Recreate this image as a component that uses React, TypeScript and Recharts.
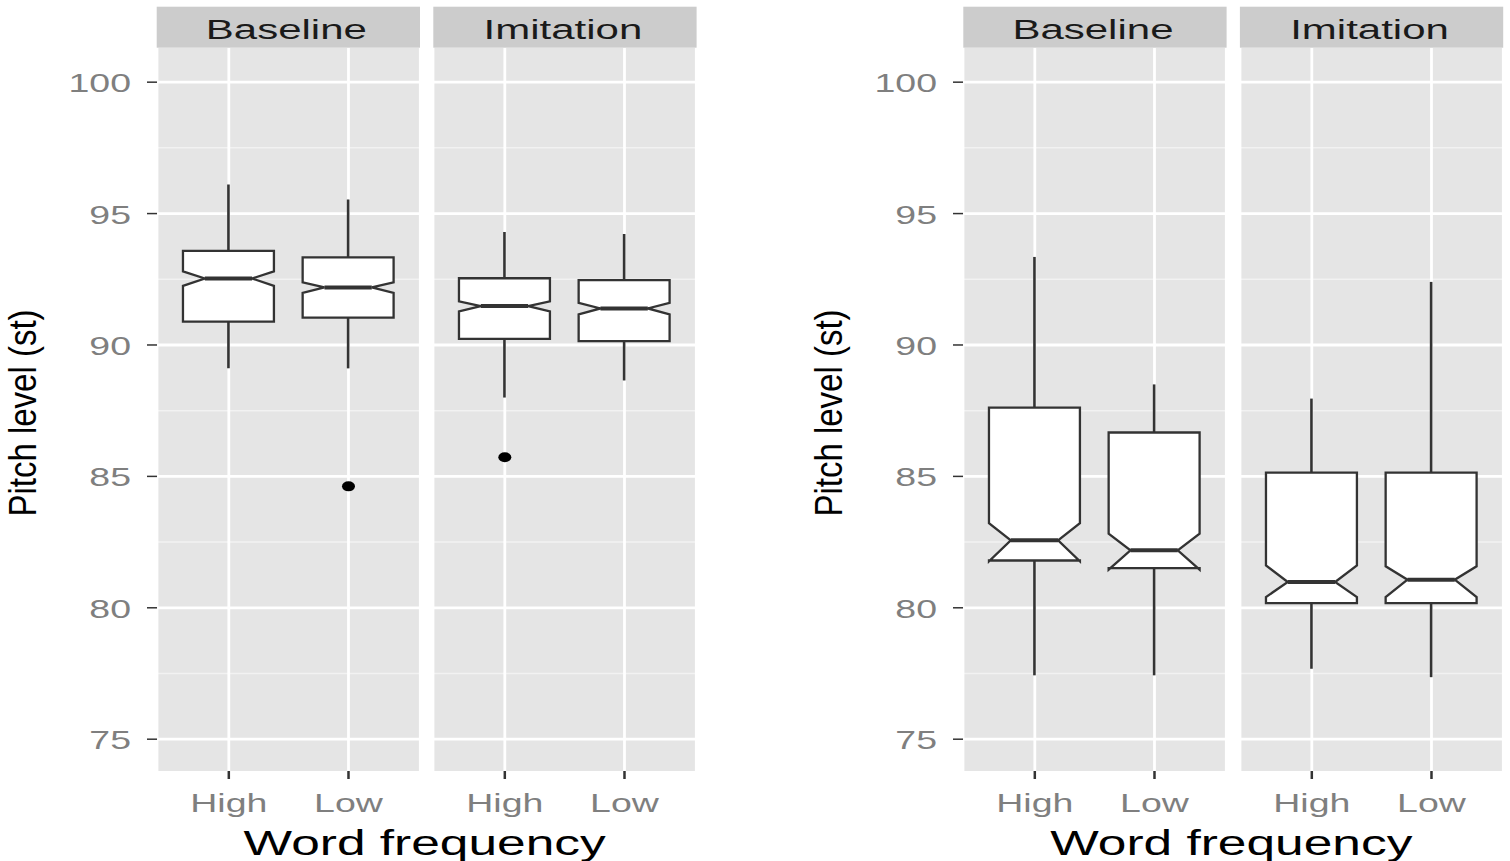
import React from 'react';
import { ComposedChart, Bar, Scatter, XAxis, YAxis, CartesianGrid } from 'recharts';

const categories = ['High', 'Low'];
const facetNames = ['Baseline', 'Imitation'];
const yTicks = [75, 80, 85, 90, 95, 100];
const yMinorTicks = [77.5, 82.5, 87.5, 92.5, 97.5];
const yDomain = [73.79, 101.3];

// box order in each list: Baseline-High, Baseline-Low, Imitation-High, Imitation-Low
const leftWhiskerLow = [89.11, 89.11, 88.0, 88.65];
const leftQ1 = [90.89, 91.04, 90.23, 90.15];
const leftNotchLow = [92.25, 91.98, 91.28, 91.16];
const leftMedian = [92.53, 92.19, 91.48, 91.39];
const leftNotchHigh = [92.8, 92.38, 91.66, 91.6];
const leftQ3 = [93.58, 93.33, 92.54, 92.47];
const leftWhiskerHigh = [96.11, 95.54, 94.3, 94.22];
const leftOutliers = [null, 84.62, 85.73, null];

const rightWhiskerLow = [77.43, 77.43, 77.68, 77.36];
const rightQ1 = [81.8, 81.51, 80.18, 80.18];
const rightNotchLow = [81.77, 81.45, 80.41, 80.41];
const rightMedian = [82.57, 82.19, 80.98, 81.07];
const rightNotchHigh = [83.22, 82.82, 81.61, 81.58];
const rightQ3 = [87.62, 86.67, 85.14, 85.14];
const rightWhiskerHigh = [93.35, 88.5, 87.96, 92.4];
const rightOutliers = [null, null, null, null];

const FONT = '"Liberation Sans", Arial, Helvetica, sans-serif';
const SX = 1.5;
const PANEL_W = 263.3;
const PANEL_GAP = 13.3;
const PANEL_TOP = 47.7;
const PANEL_H = 723;
const STRIP_TOP = 6.7;
const Y_AXIS_W = 157;
const X_AXIS_H = 50;
const CAT_PAD = PANEL_W * (0.6 / 2.2 - 0.25) * 2;
const BOX_W = (0.76 * PANEL_W) / 2.2;
const PLOT_LEFTS = [156.7, 963.3];

type Stats = {
  wl: number[]; q1: number[]; nl: number[]; med: number[];
  nh: number[]; q3: number[]; wh: number[]; out: (number | null)[];
};

const leftStats: Stats = {
  wl: leftWhiskerLow, q1: leftQ1, nl: leftNotchLow, med: leftMedian,
  nh: leftNotchHigh, q3: leftQ3, wh: leftWhiskerHigh, out: leftOutliers,
};
const rightStats: Stats = {
  wl: rightWhiskerLow, q1: rightQ1, nl: rightNotchLow, med: rightMedian,
  nh: rightNotchHigh, q3: rightQ3, wh: rightWhiskerHigh, out: rightOutliers,
};

function facetRows(s: Stats, facet: number) {
  return categories.map((category, c) => {
    const i = facet * categories.length + c;
    return {
      category,
      range: [s.wl[i], s.wh[i]],
      q1: s.q1[i],
      notchLow: s.nl[i],
      median: s.med[i],
      notchHigh: s.nh[i],
      q3: s.q3[i],
      outlier: s.out[i],
    };
  });
}

function NotchedBox(props: any) {
  const { x, y, width, height, payload } = props;
  if (!payload || !Number.isFinite(y) || !Number.isFinite(height)) return null;
  const [lo, hi] = payload.range;
  const top = Math.min(y, y + height);
  const k = Math.abs(height) / (hi - lo);
  const py = (v: number) => top + (hi - v) * k;
  const xmin = x;
  const xmax = x + width;
  const cx = x + width / 2;
  const inset = width * 0.24;
  const pts = [
    [xmin, py(payload.q3)],
    [xmin, py(payload.notchHigh)],
    [xmin + inset, py(payload.median)],
    [xmin, py(payload.notchLow)],
    [xmin, py(payload.q1)],
    [xmax, py(payload.q1)],
    [xmax, py(payload.notchLow)],
    [xmax - inset, py(payload.median)],
    [xmax, py(payload.notchHigh)],
    [xmax, py(payload.q3)],
  ]
    .map((p) => p.join(','))
    .join(' ');
  return (
    <g>
      <line x1={cx} x2={cx} y1={py(hi)} y2={py(payload.q3)} stroke="#333333" strokeWidth={2.6} />
      <line x1={cx} x2={cx} y1={py(payload.q1)} y2={py(lo)} stroke="#333333" strokeWidth={2.6} />
      <polygon points={pts} fill="#FFFFFF" stroke="#333333" strokeWidth={2.3} />
      <line
        x1={xmin + inset}
        x2={xmax - inset}
        y1={py(payload.median)}
        y2={py(payload.median)}
        stroke="#333333"
        strokeWidth={4}
      />
    </g>
  );
}

function OutlierDot(props: any) {
  const { cx, cy, payload } = props;
  if (!payload || payload.outlier == null || !Number.isFinite(cx) || !Number.isFinite(cy)) return null;
  return <ellipse cx={cx} cy={cy} rx={6.5} ry={5} fill="#000000" />;
}

function XTick(props: any) {
  const { x, y, payload } = props;
  return (
    <text
      transform={`translate(${x},${y + 33}) scale(${SX},1)`}
      textAnchor="middle"
      fill="#7F7F7F"
      fontSize={25}
      fontFamily={FONT}
    >
      {payload.value}
    </text>
  );
}

function YTick(props: any) {
  const { x, y, payload } = props;
  return (
    <text
      transform={`translate(${x},${y + 1}) scale(${SX},1)`}
      textAnchor="end"
      dy="0.36em"
      fill="#7F7F7F"
      fontSize={25}
      fontFamily={FONT}
    >
      {payload.value}
    </text>
  );
}

function Facet({ rows, showY, left }: { rows: any[]; showY: boolean; left: number }) {
  const width = showY ? Y_AXIS_W + PANEL_W : PANEL_W;
  return (
    <div style={{ position: 'absolute', left, top: PANEL_TOP }}>
      <ComposedChart
        width={width}
        height={PANEL_H + X_AXIS_H}
        data={rows}
        margin={{ top: 0, right: 0, bottom: 0, left: 0 }}
      >
        <CartesianGrid
          vertical={false}
          horizontalValues={yMinorTicks}
          stroke="#F2F2F2"
          strokeWidth={1.5}
          fill="#E5E5E5"
          fillOpacity={1}
        />
        <CartesianGrid horizontalValues={yTicks} stroke="#FFFFFF" strokeWidth={2.8} />
        <XAxis
          dataKey="category"
          type="category"
          interval={0}
          padding={{ left: CAT_PAD, right: CAT_PAD }}
          height={X_AXIS_H}
          axisLine={false}
          tickSize={8}
          tickMargin={0}
          tickLine={{ stroke: '#333333', strokeWidth: 2.5 }}
          tick={<XTick />}
        />
        <YAxis
          type="number"
          domain={yDomain}
          allowDataOverflow
          ticks={yTicks}
          hide={!showY}
          width={showY ? Y_AXIS_W : 0}
          axisLine={false}
          tickSize={10}
          tickMargin={16}
          tickLine={{ stroke: '#333333', strokeWidth: 1.5 }}
          tick={<YTick />}
        />
        <Bar dataKey="range" barSize={BOX_W} shape={<NotchedBox />} isAnimationActive={false} />
        <Scatter dataKey="outlier" shape={<OutlierDot />} isAnimationActive={false} />
      </ComposedChart>
    </div>
  );
}

function Decorations({ plotLeft }: { plotLeft: number }) {
  const midX = plotLeft + PANEL_W + PANEL_GAP / 2;
  return (
    <g>
      {facetNames.map((name, f) => {
        const x0 = plotLeft + f * (PANEL_W + PANEL_GAP);
        return (
          <g key={name}>
            <rect x={x0} y={STRIP_TOP} width={PANEL_W} height={PANEL_TOP - STRIP_TOP} fill="#CCCCCC" />
            <text
              transform={`translate(${x0 + PANEL_W / 2 - 2},38.5) scale(${SX},1)`}
              textAnchor="middle"
              fill="#1A1A1A"
              fontSize={28}
              fontFamily={FONT}
            >
              {name}
            </text>
          </g>
        );
      })}
      <text
        transform={`translate(${midX - 2},855) scale(1.47,1)`}
        textAnchor="middle"
        fill="#000000"
        fontSize={35}
        fontFamily={FONT}
      >
        Word frequency
      </text>
      <text
        transform={`translate(${plotLeft - 121},413) rotate(-90) scale(1,1.15)`}
        textAnchor="middle"
        fill="#000000"
        fontSize={33}
        fontFamily={FONT}
      >
        Pitch level (st)
      </text>
    </g>
  );
}

export default function App() {
  const plots = [leftStats, rightStats];
  return (
    <div
      style={{
        position: 'fixed',
        left: 0,
        top: 0,
        width: 1510,
        height: 861,
        background: '#FFFFFF',
        overflow: 'hidden',
      }}
    >
      <svg width={1510} height={861} style={{ position: 'absolute', left: 0, top: 0 }}>
        {PLOT_LEFTS.map((pl) => (
          <Decorations key={pl} plotLeft={pl} />
        ))}
      </svg>
      {plots.map((stats, p) =>
        facetNames.map((name, f) => {
          const panelLeft = PLOT_LEFTS[p] + f * (PANEL_W + PANEL_GAP);
          const showY = f === 0;
          return (
            <Facet
              key={`${p}-${name}`}
              rows={facetRows(stats, f)}
              showY={showY}
              left={showY ? panelLeft - Y_AXIS_W : panelLeft}
            />
          );
        })
      )}
    </div>
  );
}
